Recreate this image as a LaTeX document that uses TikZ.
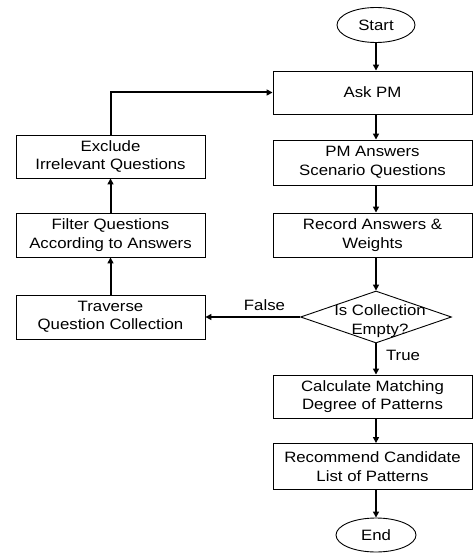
\documentclass[tikz,border=0pt]{standalone}
\usepackage{fontspec}
\usepackage{graphicx}
\setmainfont{Liberation Sans}
\usetikzlibrary{shapes.geometric,arrows.meta}
\newcommand\sx[1]{\scalebox{1.12}[1]{#1}}
\tikzset{
  box/.style={draw, line width=0.9pt, rectangle, inner sep=0pt, align=center,
    font=\fontsize{15}{18.5}\selectfont},
  oval/.style={draw, line width=0.9pt, ellipse, inner sep=0pt,
    font=\fontsize{15}{18.5}\selectfont},
  arr/.style={line width=2pt, -{Triangle[length=6pt,width=6pt]}},
  lbl/.style={font=\fontsize{15}{18.5}\selectfont, inner sep=0pt}
}
\begin{document}
\begin{tikzpicture}[x=1pt,y=-1pt]
\useasboundingbox (0,0) rectangle (473,553);
% right column
\node[oval, minimum width=78, minimum height=35] (start) at (376,25) {\sx{Start}};
\node[box, minimum width=199, minimum height=43] (ask) at (372.5,92.5) {\sx{Ask PM}};
\node[box, minimum width=199, minimum height=45] (pma) at (372.5,162.5) {\sx{PM Answers}\\\sx{Scenario Questions}};
\node[box, minimum width=199, minimum height=44] (rec) at (372.5,235) {\sx{Record Answers \&}\\\sx{Weights}};
\node[draw, line width=0.9pt, diamond, minimum width=151, minimum height=52, inner sep=0pt] (dec) at (376,317) {};
\node[lbl, align=center] (dect) at (380,321) {\sx{Is Collection}\\\sx{Empty?}};
\node[box, minimum width=199, minimum height=43] (calc) at (372.5,396.5) {\sx{Calculate Matching}\\\sx{Degree of Patterns}};
\node[box, minimum width=199, minimum height=46] (recm) at (372.5,466.5) {\sx{Recommend Candidate}\\\sx{List of Patterns}};
\node[oval, minimum width=80, minimum height=34] (end) at (376,535) {\sx{End}};
% left column
\node[box, minimum width=189, minimum height=43] (excl) at (110.5,156.5) {\sx{Exclude}\\\sx{Irrelevant Questions}};
\node[box, minimum width=189, minimum height=44] (filt) at (110.5,235) {\sx{Filter Questions}\\\sx{According to Answers}};
\node[box, minimum width=189, minimum height=44] (trav) at (110.5,317) {\sx{Traverse}\\\sx{Question Collection}};
% connectors
\draw[arr] (start.south) -- (start.south |- ask.north);
\draw[arr] (ask.south -| start.south) -- (pma.north -| start.south);
\draw[arr] (pma.south -| start.south) -- (rec.north -| start.south);
\draw[arr] (rec.south -| start.south) -- (dec.north);
\draw[arr] (dec.south) -- (dec.south |- calc.north);
\draw[arr] (calc.south -| start.south) -- (recm.north -| start.south);
\draw[arr] (recm.south -| start.south) -- (end.north);
\draw[arr] (dec.west) -- (trav.east);
\draw[arr] (trav.north) -- (filt.south);
\draw[arr] (filt.north) -- (excl.south);
\draw[arr] (excl.north) |- (ask.west);
\node[lbl] (flbl) at (264.5,305) {\sx{False}};
\node[lbl] (tlbl) at (403,355) {\sx{True}};
\end{tikzpicture}
\end{document}
